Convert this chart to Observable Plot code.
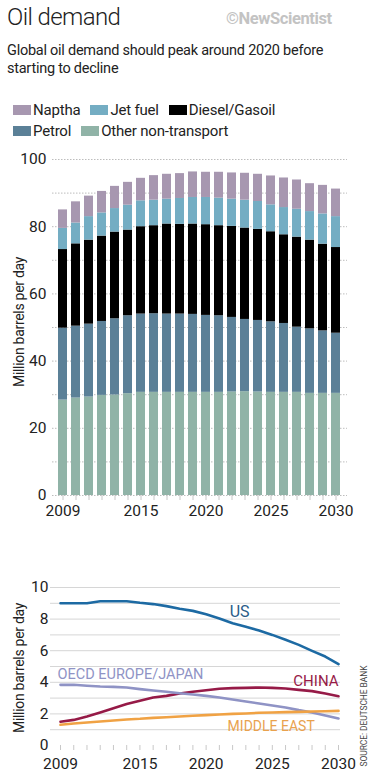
<!DOCTYPE html>
<html>
<head>
<meta charset="utf-8">
<script src="https://cdn.jsdelivr.net/npm/d3@7"></script>
<script src="https://cdn.jsdelivr.net/npm/@observablehq/plot@0.6"></script>
<style>
  html, body { margin: 0; padding: 0; background: #fff; }
  body { width: 371px; height: 772px; position: relative; overflow: hidden; font-family: Roboto, "Noto Sans", sans-serif; color: #222; }
  .abs { position: absolute; }
  #title { left: 7px; top: 3px; font-size: 24px; font-weight: 300; letter-spacing: -0.6px; }
  #logo { left: 226px; top: 9px; font-size: 16.5px; font-weight: 700; color: #c3c3c3; letter-spacing: -0.4px; }
  #subtitle { left: 7px; top: 42px; width: 350px; font-size: 14.5px; line-height: 18px; letter-spacing: -0.25px; }
  #legend { left: 13px; top: 101px; width: 285px; display: flex; flex-wrap: wrap; column-gap: 10px; row-gap: 3px; font-size: 15px; letter-spacing: -0.2px; }
  .item { display: flex; align-items: center; height: 18px; }
  .sw { width: 18px; height: 10px; margin-right: 2px; display: inline-block; }
  .ytitle { font-size: 14px; letter-spacing: -0.3px; transform: translate(-50%, -50%) rotate(-90deg); white-space: nowrap; }
  #source { font-size: 8.5px; color: #444; transform: translate(-50%, -50%) rotate(-90deg); white-space: nowrap; letter-spacing: -0.1px; }
  svg { position: absolute; left: 0; }
</style>
</head>
<body>
<div id="title" class="abs">Oil demand</div>
<div id="logo" class="abs">©NewScientist</div>
<div id="subtitle" class="abs">Global oil demand should peak around 2020 before starting to decline</div>
<div id="legend" class="abs"></div>
<div id="yt1" class="abs ytitle" style="left:19px; top:322px;">Million barrels per day</div>
<div id="yt2" class="abs ytitle" style="left:19px; top:668px;">Million barrels per day</div>
<div id="source" class="abs" style="left:364px; top:716px;">SOURCE: DEUTSCHE BANK</div>
<div id="bars"></div>
<div id="lines"></div>
<script>
// ---------- Data ----------
const years = [2009, 2010, 2011, 2012, 2013, 2014, 2015, 2016, 2017, 2018, 2019,
               2020, 2021, 2022, 2023, 2024, 2025, 2026, 2027, 2028, 2029, 2030];
const xTickLabels = [2009, 2015, 2020, 2025, 2030];

// Stack order bottom -> top
const categories = ["Other non-transport", "Petrol", "Diesel/Gasoil", "Jet fuel", "Naptha"];
const legendOrder = ["Naptha", "Jet fuel", "Diesel/Gasoil", "Petrol", "Other non-transport"];
const categoryColors = ["#90b3a7", "#5b8097", "#000000", "#74adc3", "#a797b0"];

const otherNonTransport = [28.4, 29.0, 29.3, 29.8, 29.9, 30.3, 30.7, 30.7, 30.7, 30.7, 30.7, 30.7, 30.7, 30.8, 30.9, 30.8, 30.7, 30.7, 30.7, 30.4, 30.4, 30.4];
const petrol            = [21.4, 21.4, 21.7, 22.0, 22.7, 23.2, 23.3, 23.4, 23.3, 23.3, 23.2, 22.9, 22.8, 22.2, 21.5, 21.3, 21.0, 20.5, 19.4, 19.2, 18.6, 17.9];
const dieselGasoil      = [23.4, 24.5, 25.0, 25.4, 25.8, 25.5, 26.0, 26.2, 26.8, 26.7, 26.9, 27.0, 26.8, 27.1, 27.2, 27.1, 26.8, 26.4, 26.8, 26.4, 25.8, 25.5];
const jetFuel           = [6.3, 6.2, 7.0, 6.9, 7.0, 7.4, 7.7, 7.6, 7.4, 7.7, 7.9, 8.1, 8.2, 8.1, 8.3, 8.3, 8.0, 8.1, 8.3, 8.5, 9.0, 9.2];
const naptha            = [5.5, 6.3, 6.1, 6.4, 6.6, 6.8, 6.7, 7.3, 7.4, 7.4, 7.6, 7.5, 7.7, 7.8, 8.0, 8.1, 8.6, 8.8, 8.7, 8.3, 8.5, 8.2];
const barSeries = [otherNonTransport, petrol, dieselGasoil, jetFuel, naptha];

const barYTicks = [0, 20, 40, 60, 80, 100];
const barGridTicks = [0, 10, 20, 30, 40, 50, 60, 70, 80, 90, 100];

// Regional demand, million barrels per day
const regions = ["US", "CHINA", "OECD EUROPE/JAPAN", "MIDDLE EAST"];
const regionColors = ["#1d6aa3", "#961a47", "#8f93c5", "#f0a244"];
const regionLabelColors = ["#2a5b88", "#961a47", "#8f93c5", "#e9a24e"];
const us    = [9.0, 9.0, 9.0, 9.13, 9.13, 9.13, 9.03, 8.95, 8.82, 8.65, 8.52, 8.31, 8.04, 7.74, 7.51, 7.28, 7.0, 6.69, 6.37, 5.99, 5.63, 5.15];
const china = [1.5, 1.62, 1.84, 2.09, 2.36, 2.62, 2.83, 3.04, 3.14, 3.29, 3.40, 3.50, 3.59, 3.63, 3.65, 3.67, 3.65, 3.61, 3.52, 3.44, 3.29, 3.12];
const oecd  = [3.84, 3.84, 3.78, 3.73, 3.71, 3.67, 3.57, 3.48, 3.40, 3.31, 3.23, 3.14, 3.04, 2.91, 2.78, 2.66, 2.53, 2.41, 2.24, 2.09, 1.90, 1.71];
const middleEast = [1.31, 1.39, 1.46, 1.52, 1.58, 1.65, 1.69, 1.75, 1.79, 1.84, 1.88, 1.92, 1.96, 2.0, 2.03, 2.07, 2.09, 2.11, 2.13, 2.15, 2.17, 2.19];
const lineSeries = [us, china, oecd, middleEast];
const lineYTicks = [0, 2, 4, 6, 8, 10];
const lineGridTicks = [1, 2, 3, 4, 5, 6, 7, 8, 9, 10];

// ---------- Legend ----------
const legend = document.getElementById("legend");
legendOrder.forEach(name => {
  const c = categoryColors[categories.indexOf(name)];
  const it = document.createElement("div");
  it.className = "item";
  it.innerHTML = `<span class="sw" style="background:${c}"></span><span>${name}</span>`;
  legend.appendChild(it);
});

// ---------- Stacked bars ----------
const barData = [];
categories.forEach((cat, ci) => {
  years.forEach((yr, i) => barData.push({year: yr, type: cat, value: barSeries[ci][i]}));
});

const barChart = Plot.plot({
  width: 371,
  height: 372,
  marginTop: 14,
  marginBottom: 22,
  marginLeft: 52,
  marginRight: 24,
  style: {fontFamily: "Roboto, sans-serif", fontSize: "15.5px", color: "#222", background: "transparent", overflow: "visible"},
  x: {type: "band", domain: years, padding: 0.28, label: null},
  y: {domain: [0, 100], label: null},
  color: {domain: categories, range: categoryColors},
  marks: [
    Plot.gridY(barGridTicks, {stroke: "#bdbdbd", strokeOpacity: 1, strokeDasharray: "1.5,1.5"}),
    Plot.barY(barData, {x: "year", y: "value", fill: "type", order: categories}),
    Plot.axisY({ticks: barYTicks, tickSize: 0, tickPadding: 6, label: null}),
    Plot.axisX({ticks: years, tickSize: 5, tickFormat: () => "", stroke: "#c8c8c8", label: null}),
    Plot.axisX({ticks: xTickLabels, tickSize: 0, tickPadding: 9, tickFormat: d => String(d), label: null})
  ]
});
barChart.style.top = "145px";
document.getElementById("bars").appendChild(barChart);

// ---------- Lines ----------
const lineData = [];
regions.forEach((r, ri) => {
  years.forEach((yr, i) => lineData.push({year: yr, region: r, value: lineSeries[ri][i]}));
});

const labelAnchors = [
  {region: "US", year: 2022, dx: 7, dy: -11, anchor: "middle", size: 16},
  {region: "CHINA", year: 2030, dx: 0, dy: -15, anchor: "end", size: 15},
  {region: "OECD EUROPE/JAPAN", year: 2009, dx: -3, dy: -10, anchor: "start", size: 14.5},
  {region: "MIDDLE EAST", year: 2022, dx: -5, dy: 13, anchor: "start", size: 14}
];
const labelMarks = labelAnchors.map(l => {
  const ri = regions.indexOf(l.region);
  const pt = lineData.filter(d => d.region === l.region && d.year === l.year);
  return Plot.text(pt, {
    x: "year", y: "value", text: () => l.region,
    dx: l.dx, dy: l.dy, textAnchor: l.anchor, fill: regionLabelColors[ri],
    fontSize: l.size, lineAnchor: "middle"
  });
});

const lineChart = Plot.plot({
  width: 371,
  height: 192,
  marginTop: 12,
  marginBottom: 22,
  marginLeft: 50,
  marginRight: 31,
  style: {fontFamily: "Roboto, sans-serif", fontSize: "15.5px", color: "#222", background: "transparent", overflow: "visible"},
  x: {domain: [2008.245, 2030.15], label: null},
  y: {domain: [0, 10], label: null},
  color: {domain: regions, range: regionColors},
  marks: [
    Plot.gridY(lineGridTicks, {stroke: "#d6d6d6", strokeOpacity: 1}),
    Plot.line(lineData, {x: "year", y: "value", stroke: "region", strokeWidth: 2.6}),
    ...labelMarks,
    Plot.axisY({ticks: lineYTicks, tickSize: 0, tickPadding: 2, label: null}),
    Plot.axisX({ticks: years, tickSize: 5, tickFormat: () => "", stroke: "#c8c8c8", label: null}),
    Plot.axisX({ticks: xTickLabels, tickSize: 0, tickPadding: 12, tickFormat: d => String(d), label: null})
  ]
});
lineChart.style.top = "575px";
document.getElementById("lines").appendChild(lineChart);
</script>
</body>
</html>
